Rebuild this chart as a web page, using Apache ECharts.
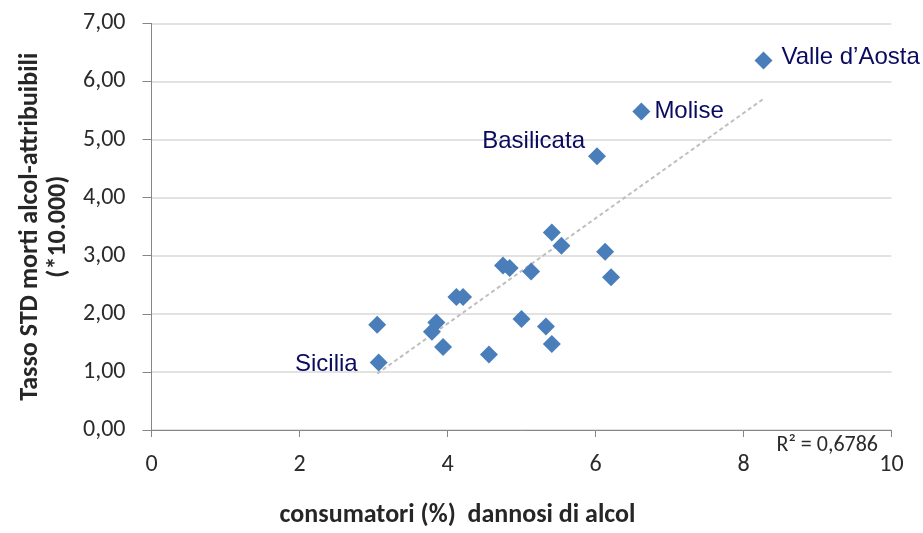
<!DOCTYPE html>
<html>
<head>
<meta charset="utf-8">
<script src="https://cdn.jsdelivr.net/npm/echarts@6/dist/echarts.min.js"></script>
<style>
  html, body { margin: 0; padding: 0; background: #fff; }
  #chart { width: 923px; height: 533px; }
</style>
</head>
<body>
<div id="chart"></div>
<script>
// consumatori dannosi (%) per regione
const consumers = [3.05, 3.07, 3.79, 3.85, 3.94, 4.12, 4.21, 4.56, 4.75, 4.84, 5.00,
  5.13, 5.33, 5.41, 5.41, 5.54, 6.13, 6.21, 6.02, 6.62, 8.27];
// tasso STD morti alcol-attribuibili (*10.000)
const rates = [1.81, 1.16, 1.69, 1.85, 1.43, 2.29, 2.29, 1.30, 2.83, 2.79, 1.91,
  2.73, 1.78, 1.48, 3.40, 3.17, 3.07, 2.63, 4.71, 5.48, 6.36];
const regionNames = ['', 'Sicilia', '', '', '', '', '', '', '', '', '',
  '', '', '', '', '', '', '', 'Basilicata', 'Molise', 'Valle d\u2019Aosta'];

// linea di tendenza (estremi)
const trendX = [3.05, 8.26];
const trendY = [0.97, 5.69];
const rSquared = 'R\u00b2 = 0,6786';

const labelStyle = {
  'Sicilia': { position: 'left', distance: 12, offset: [0, 2] },
  'Basilicata': { position: 'left', distance: 3, offset: [0, -15] },
  'Molise': { position: 'right', distance: 4, offset: [0, 0] },
  'Valle d\u2019Aosta': { position: 'right', distance: 9, offset: [0, -3] }
};

const tickFont = 'Carlito, "Liberation Sans Narrow", "Open Sans", sans-serif';

const points = consumers.map((x, i) => {
  const name = regionNames[i];
  const item = { value: [x, rates[i]], name: name };
  if (name) {
    item.label = Object.assign({ show: true }, labelStyle[name]);
  }
  return item;
});

const chart = echarts.init(document.getElementById('chart'));
chart.setOption({
  animation: false,
  grid: { left: 151.5, right: 31.5, top: 23.3, bottom: 99.7 },
  xAxis: {
    type: 'value',
    min: 0,
    max: 10,
    interval: 2,
    name: 'consumatori (%)  dannosi di alcol',
    nameLocation: 'middle',
    nameGap: 72,
    nameTextStyle: {
      fontFamily: tickFont, fontWeight: 'bold', fontSize: 26, color: '#262626',
      padding: [0, 128, 0, 0]
    },
    axisLine: { onZero: false, lineStyle: { color: '#868686', width: 1 } },
    axisTick: { show: true, inside: false, length: 7, lineStyle: { color: '#868686' } },
    axisLabel: { margin: 23, fontFamily: tickFont, fontSize: 24, color: '#2b2b2b' },
    splitLine: { show: false }
  },
  yAxis: {
    type: 'value',
    min: 0,
    max: 7,
    interval: 1,
    name: 'Tasso STD morti alcol-attribuibili\n(*10.000)',
    nameLocation: 'middle',
    nameRotate: 90,
    nameGap: 75,
    nameTextStyle: { fontFamily: tickFont, fontWeight: 'bold', fontSize: 26, color: '#262626', lineHeight: 28 },
    axisLine: { show: true, lineStyle: { color: '#868686', width: 1 } },
    axisTick: { show: true, length: 9, lineStyle: { color: '#868686' } },
    axisLabel: {
      margin: 26,
      fontFamily: tickFont,
      fontSize: 24,
      color: '#2b2b2b',
      formatter: v => v.toFixed(2).replace('.', ',')
    },
    splitLine: { show: true, lineStyle: { color: '#d9d9d9', width: 1.5 } }
  },
  series: [
    {
      type: 'line',
      data: trendX.map((x, i) => [x, trendY[i]]),
      symbol: 'none',
      silent: true,
      z: 1,
      lineStyle: { color: '#bfbfbf', width: 2, type: [4, 3] }
    },
    {
      type: 'scatter',
      data: points,
      symbol: 'diamond',
      symbolSize: 18,
      z: 3,
      itemStyle: { color: '#4a7ebb', opacity: 1 },
      label: {
        show: false,
        formatter: p => p.name,
        fontFamily: 'Liberation Sans, Arial, sans-serif',
        fontSize: 24,
        color: '#0a0a60'
      }
    }
  ],
  graphic: [
    {
      type: 'text',
      right: 45,
      top: 434,
      style: {
        text: rSquared,
        font: '22px ' + tickFont,
        fill: '#2b2b2b'
      }
    }
  ]
});
</script>
</body>
</html>
